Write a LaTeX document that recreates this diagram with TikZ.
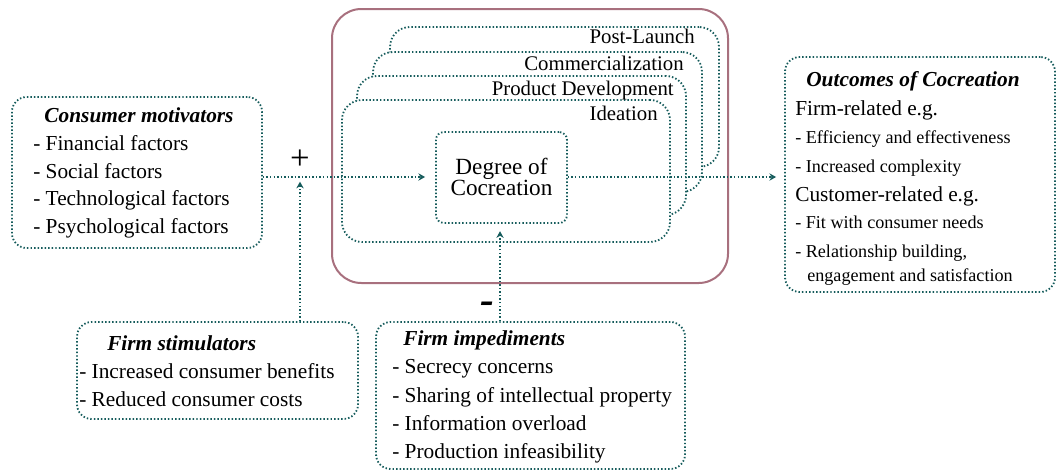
\documentclass[tikz,border=0pt]{standalone}
\usepackage{fontspec}
\setmainfont{Liberation Serif}
\usetikzlibrary{arrows.meta,fit}
\definecolor{tealc}{RGB}{22,92,92}
\definecolor{maroonc}{RGB}{168,112,126}
\begin{document}
\begin{tikzpicture}[x=0.75pt,y=-0.75pt,
  dotline/.style={draw=tealc, line width=1.35pt, dash pattern=on 1.1pt off 1.55pt},
  dotbox/.style={dotline, rounded corners=#1, inner sep=0pt, fill=white},
  dotarrow/.style={dotline, -{Stealth[length=5pt,width=5.5pt,fill=tealc]}},
  txt/.style={anchor=base west, inner sep=0pt, font=\fontsize{16}{19}\selectfont},
  small/.style={anchor=base west, inner sep=0pt, font=\fontsize{13.6}{16}\selectfont},
  ttl/.style={inner sep=0pt, font=\fontsize{16}{19}\selectfont\bfseries\itshape},
  stage/.style={anchor=base east, inner sep=0pt, font=\fontsize{15.6}{18}\selectfont},
  deg/.style={anchor=base, inner sep=0pt, font=\fontsize{17.4}{20}\selectfont}]
\useasboundingbox (0,0) rectangle (1057,471);

% outer maroon frame
\node[draw=maroonc, line width=1.5pt, rounded corners=22pt, inner sep=0pt,
      fit={(332,9)(728,283)}] (frame) {};

% stage boxes
\node[dotbox=15pt, fit={(390,27)(719,167)}] (post) {};
\node[dotbox=15pt, fit={(373,52)(702,192)}] (comm) {};
\node[dotbox=15pt, fit={(357,76)(686,215)}] (prod) {};
\node[dotbox=15pt, fit={(342,100)(670,242)}] (idea) {};
\node[stage] (lpost) at (695,43) {Post-Launch};
\node[stage] (lcomm) at (684,70) {Commercialization};
\node[stage] (lprod) at (674,95) {Product Development};
\node[stage] (lidea) at (658,120) {Ideation};

% degree of cocreation
\node[dotbox=6pt, fit={(436,132)(567,223)}] (deg) {};
\node[deg] (deg1) at (501.5,174) {Degree of};
\node[deg] (deg2) at (501.5,195) {Cocreation};

% consumer motivators
\node[dotbox=11pt, fit={(12,97)(262,248)}] (cm) {};
\node[ttl, anchor=base] (cmt) at (139,122) {Consumer motivators};
\node[txt] (cm1) at (33,150) {- Financial factors};
\node[txt] (cm2) at (33,178) {- Social factors};
\node[txt] (cm3) at (33,205.5) {- Technological factors};
\node[txt] (cm4) at (33,233) {- Psychological factors};

% firm stimulators
\node[dotbox=11pt, fit={(77,322)(358,419)}] (fs) {};
\node[ttl, anchor=base west] (fst) at (107,350) {Firm stimulators};
\node[txt] (fs1) at (79,378) {- Increased consumer benefits};
\node[txt] (fs2) at (79,406) {- Reduced consumer costs};

% firm impediments
\node[dotbox=11pt, fit={(376,322)(685,469)}] (fi) {};
\node[ttl, anchor=base west] (fit) at (403,345) {Firm impediments};
\node[txt] (fi1) at (392,373) {- Secrecy concerns};
\node[txt] (fi2) at (392,402) {- Sharing of intellectual property};
\node[txt] (fi3) at (392,430) {- Information overload};
\node[txt] (fi4) at (392,458) {- Production infeasibility};

% outcomes
\node[dotbox=11pt, fit={(785,57)(1055,292)}] (oc) {};
\node[ttl, anchor=base] (oct) at (913,86) {Outcomes of Cocreation};
\node[txt] (oc1) at (795,115) {Firm-related e.g.};
\node[small] (oc2) at (795,143) {- Efficiency and effectiveness};
\node[small] (oc3) at (795,172) {- Increased complexity};
\node[txt] (oc4) at (795,201) {Customer-related e.g.};
\node[small] (oc5) at (795,228) {- Fit with consumer needs};
\node[small] (oc6) at (795,257) {- Relationship building,};
\node[small] (oc7) at (807,281) {engagement and satisfaction};

% signs
\node[inner sep=0pt, font=\fontsize{26}{26}\selectfont] (plus) at (300,160) {+};
\node[inner sep=0pt, anchor=base, font=\fontsize{31}{31}\selectfont\bfseries\itshape] (minus) at (487,313) {-};

% connectors
\coordinate (junc) at (300,177);
\draw[dotarrow, shorten >=7.5pt] (cm.east |- 0,177) -- (deg.west |- 0,177);
\draw[dotarrow, shorten >=3.5pt] (fs.north -| junc) -- (junc);
\draw[dotarrow, shorten >=5.5pt] (fi.north -| 500,0) -- (deg.south -| 500,0);
\draw[dotarrow, shorten >=6pt] (deg.east |- 0,177) -- (oc.west |- 0,177);
\end{tikzpicture}
\end{document}
